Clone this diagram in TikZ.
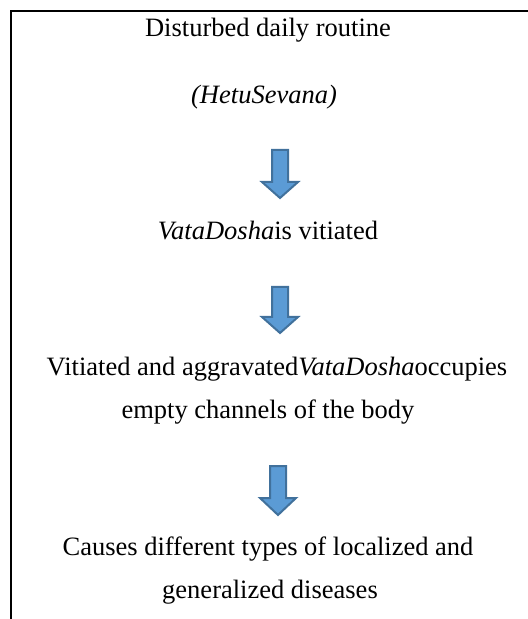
\documentclass[tikz,border=0pt]{standalone}
\usepackage{fontspec}
\setmainfont{Liberation Serif}
\tikzset{
	flowtext/.style={anchor=base, inner sep=0.75pt, font=\fontsize{13.25}{16}\selectfont},
	blockarrow/.style={draw={rgb, 255:red, 65; green, 113; blue, 156 }, fill={rgb, 255:red, 91; green, 155; blue, 213 }, line width=1pt, line join=miter}
}
\begin{document}
\begin{tikzpicture}[x=0.5pt,y=0.5pt,yscale=-1,xscale=1]
		\useasboundingbox (0,0) rectangle (528,619);
		\draw [line width=1pt] (528,11) -- (11,11) -- (11,619) ;
		\node (routine) [flowtext] at (268,37) {Disturbed daily routine};
		\node (hetu) [flowtext] at (264,104) {\textit{(HetuSevana)}};
		\draw [blockarrow, shift={(280,150)}] (-8,0) -- (8,0) -- (8,32) -- (18,32) -- (0,48) -- (-18,32) -- (-8,32) -- cycle ;
		\node (vitiated) [flowtext] at (268,240) {\textit{VataDosha}is vitiated};
		\draw [blockarrow, shift={(280,287)}] (-8,0) -- (8,0) -- (8,30) -- (18,30) -- (0,46) -- (-18,30) -- (-8,30) -- cycle ;
		\node (occupies) [flowtext] at (277,375) {Vitiated and aggravated\textit{VataDosha}occupies};
		\node (channels) [flowtext] at (268,418) {empty channels of the body};
		\draw [blockarrow, shift={(278,466)}] (-8,0) -- (8,0) -- (8,32) -- (18,32) -- (0,49) -- (-18,32) -- (-8,32) -- cycle ;
		\node (causes) [flowtext] at (268,555) {Causes different types of localized and};
		\node (diseases) [flowtext] at (270,598) {generalized diseases};
\end{tikzpicture}
\end{document}
